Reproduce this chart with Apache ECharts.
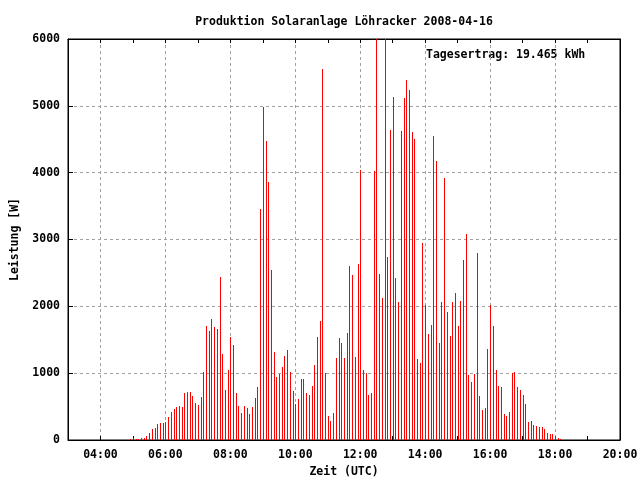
<!DOCTYPE html>
<html>
<head>
<meta charset="utf-8">
<script src="https://cdn.jsdelivr.net/npm/echarts@6/dist/echarts.min.js"></script>
<style>html,body{margin:0;padding:0;background:#fff}#c{width:640px;height:480px}</style>
</head>
<body>
<div id="c"></div>
<script>
// sampling: every 5 minutes starting at 04:55 UTC
const sampleStart = "04:55";
const sampleStepMinutes = 5;
// power in W, one value per sample
const power = [
  15,30,15,15,30,30,60,104,164,179,239,254,254,269,343,418,463,493,507,493,701,716,716,657,552,522,642,1015,1701,1627,1806,1687,
  1657,2433,1284,746,1045,1537,1418,701,507,403,507,478,388,493,627,791,3463,4990,4478,3866,2537,1313,940,985,1090,1254,1343,1015,731,537,612,
  910,910,701,672,806,1119,1537,1776,5552,1000,358,284,403,1224,1522,1448,1224,1597,2597,2463,1239,2627,4045,1045,1000,672,701,4030,6500,2478,2119,6400,
  2731,4642,5134,2418,2060,4627,5119,5388,5239,4612,4507,1209,1149,2955,2015,1582,1716,4552,4179,1448,2060,3925,1910,1552,2060,2194,1701,2075,2687,3075,970,
  866,985,2791,657,448,478,1358,2015,1701,1045,806,791,388,358,418,1000,1015,791,746,672,537,269,284,224,209,194,194,164,104,90,90,60,30,15
];
const yTicks = [0,1000,2000,3000,4000,5000,6000];
const xRangeHours = [3, 20];
const xLabelHours = [4,6,8,10,12,14,16,18,20];
const titleText = "Produktion Solaranlage Löhracker 2008-04-16";
const yieldText = "Tagesertrag: 19.465 kWh";

const startH = parseInt(sampleStart.slice(0,2),10) + parseInt(sampleStart.slice(3),10)/60;
const seriesData = power.map((v,i) => [startH + i*sampleStepMinutes/60, v]);

const FONT = "DejaVu Sans Mono";
const FS = 11.5;
const fmtHour = h => (h < 10 ? "0" : "") + h + ":00";

const chart = echarts.init(document.getElementById('c'), null, {renderer:'canvas'});
chart.setOption({
  animation: false,
  backgroundColor: '#ffffff',
  title: {
    text: titleText, left: 339, top: 11, textAlign: 'center',
    textStyle: {fontFamily: FONT, fontSize: FS, fontWeight: 'bold', color: '#000'}
  },
  grid: {left: 68, right: 20, top: 39, bottom: 40, outerBoundsMode: 'none', containLabel: false,
         show: true, borderColor: '#000', borderWidth: 1, backgroundColor: 'transparent'},
  graphic: [{
    type: 'text', left: 426, top: 49,
    style: {text: yieldText, font: 'bold 11.5px "DejaVu Sans Mono"', fill: '#000'}
  }],
  xAxis: [{
    type: 'value', min: xRangeHours[0], max: xRangeHours[1], interval: 1,
    name: 'Zeit (UTC)', nameLocation: 'middle', nameGap: 26,
    nameTextStyle: {fontFamily: FONT, fontSize: FS, fontWeight: 'bold', color: '#000'},
    axisLine: {show: true, onZero: false, lineStyle: {color: '#000', width: 1}},
    axisTick: {show: true, inside: true, length: 4, lineStyle: {color: '#000'}},
    axisLabel: {
      margin: 9, fontFamily: FONT, fontSize: FS, fontWeight: 'bold', color: '#000',
      formatter: v => (xLabelHours.indexOf(v) >= 0 ? fmtHour(v) : '')
    },
    splitLine: {show: true, lineStyle: {color: ['rgba(0,0,0,0)', '#a0a0a0'], type: [3,3], width: 1}}
  }, {
    type: 'value', position: 'top', min: xRangeHours[0], max: xRangeHours[1], interval: 1,
    axisLine: {show: true, onZero: false, lineStyle: {color: '#000'}},
    axisTick: {show: true, inside: true, length: 4, lineStyle: {color: '#000'}},
    axisLabel: {show: false}, splitLine: {show: false}
  }],
  yAxis: [{
    type: 'value', min: yTicks[0], max: yTicks[yTicks.length-1], interval: 1000,
    name: 'Leistung [W]', nameLocation: 'middle', nameGap: 44, nameRotate: 90,
    nameTextStyle: {fontFamily: FONT, fontSize: FS, fontWeight: 'bold', color: '#000'},
    axisLine: {show: true, lineStyle: {color: '#000'}},
    axisTick: {show: true, inside: true, length: 5, lineStyle: {color: '#000'}},
    axisLabel: {margin: 8, fontFamily: FONT, fontSize: FS, fontWeight: 'bold', color: '#000',
                formatter: v => String(v)},
    splitLine: {show: true, lineStyle: {color: '#a0a0a0', type: [3,3], width: 1}}
  }, {
    type: 'value', position: 'right', min: yTicks[0], max: yTicks[yTicks.length-1], interval: 1000,
    axisLine: {show: true, lineStyle: {color: '#000'}},
    axisTick: {show: false}, axisLabel: {show: false}, splitLine: {show: false}
  }],
  series: [{
    type: 'custom',
    xAxisIndex: 0, yAxisIndex: 0,
    data: seriesData,
    renderItem: function (params, api) {
      const x = api.value(0), v = api.value(1);
      const p0 = api.coord([x, 0]);
      const p1 = api.coord([x, v]);
      const top = params.coordSys.y;
      const px = Math.round(p0[0]) + 0.5;
      return {
        type: 'line',
        shape: {x1: px, y1: Math.round(p0[1]), x2: px, y2: Math.max(Math.round(p1[1]), top)},
        style: {stroke: '#ff0000', lineWidth: 1}
      };
    }
  }]
});
</script>
</body>
</html>
